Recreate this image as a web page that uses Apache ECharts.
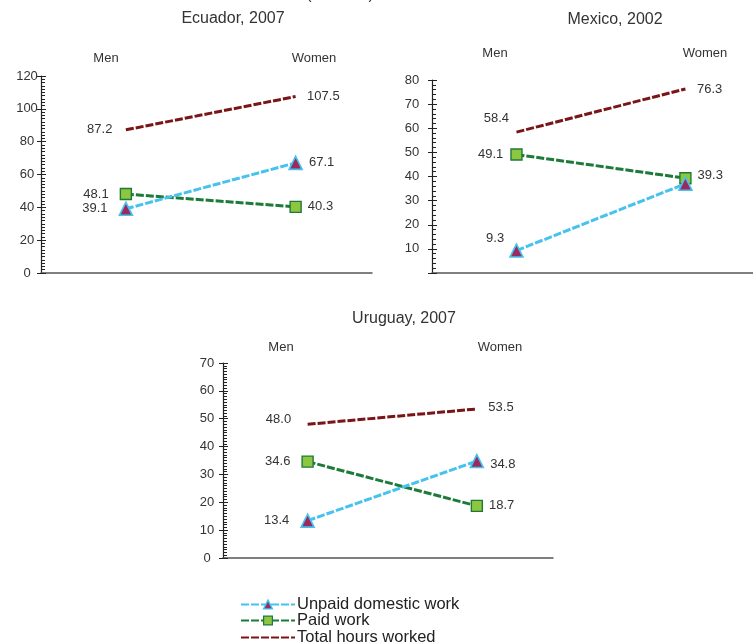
<!DOCTYPE html>
<html>
<head>
<meta charset="utf-8">
<script src="https://cdn.jsdelivr.net/npm/echarts@6/dist/echarts.min.js"></script>
<style>
html,body{margin:0;padding:0;background:#fff;}
#c{width:753px;height:644px;}
</style>
</head>
<body>
<div id="c"></div>
<script>
// ---- data ----
const sexes = ['Men', 'Women'];
const seriesNames = ['Unpaid domestic work', 'Paid work', 'Total hours worked'];
const countries = ['Ecuador, 2007', 'Mexico, 2002', 'Uruguay, 2007'];
const ecuadorUnpaid = [39.1, 67.1];
const ecuadorPaid = [48.1, 40.3];
const ecuadorTotal = [87.2, 107.5];
const mexicoUnpaid = [9.3, 37.0];
const mexicoPaid = [49.1, 39.3];
const mexicoTotal = [58.4, 76.3];
const uruguayUnpaid = [13.4, 34.8];
const uruguayPaid = [34.6, 18.7];
const uruguayTotal = [48.0, 53.5];
const ecuadorTicks = {max: 120, interval: 20};
const mexicoTicks = {max: 80, interval: 10};
const uruguayTicks = {max: 70, interval: 10};
const topNote = '(in hours)';

// ---- styling ----
const FONT = 'Liberation Sans, Arial, sans-serif';
const TXT = '#333';
const C_UNPAID = '#45c3ee';
const C_TRI = '#9b2a5f';
const C_PAID = '#1d7a3a';
const C_SQ = '#8dc63f';
const C_TOTAL = '#7a1517';

const charts = [
  {name: countries[0], data: [ecuadorUnpaid, ecuadorPaid, ecuadorTotal], ticks: ecuadorTicks, minorSplit: 10,
   grid: {left: 41, top: 76, width: 331, height: 197}, xmax: 1.45, hide0: false, labelMargin: 14,
   titlePos: [233, 19], menPos: [106, 58], womenPos: [314, 58],
   offsets: {'2-0': [3, 0]}},
  {name: countries[1], data: [mexicoUnpaid, mexicoPaid, mexicoTotal], ticks: mexicoTicks, minorSplit: 5,
   grid: {left: 432, top: 80, width: 330, height: 193}, xmax: 1.4, hide0: true, labelMargin: 20,
   titlePos: [615, 20], menPos: [495, 53], womenPos: [705, 53],
   offsets: {'0-0': [6, -12], '2-0': [9, -14], '1-0': [4, 0], '1-1': [0, -3], '0-1': null}},
  {name: countries[2], data: [uruguayUnpaid, uruguayPaid, uruguayTotal], ticks: uruguayTicks, minorSplit: 10,
   grid: {left: 223, top: 363, width: 330, height: 195}, xmax: 1.45, hide0: false, labelMargin: 16,
   titlePos: [404, 319], menPos: [281, 347], womenPos: [500, 347],
   offsets: {'2-0': [0, -5], '2-1': [0, -2], '0-1': [0, 3]}}
];

const grids = [], xAxes = [], yAxes = [], series = [], graphics = [];

charts.forEach((ch, ci) => {
  grids.push(ch.grid);
  xAxes.push({
    type: 'value', gridIndex: ci, min: -0.5, max: ch.xmax,
    axisLine: {show: true, onZero: false, lineStyle: {color: '#555', width: 1.5}},
    axisTick: {show: false}, axisLabel: {show: false}, splitLine: {show: false}
  });
  const yBase = {
    type: 'value', gridIndex: ci, min: 0, max: ch.ticks.max, interval: ch.ticks.interval,
    position: 'left', splitLine: {show: false}
  };
  yAxes.push(Object.assign({}, yBase, {
    axisLine: {show: true, onZero: false, lineStyle: {color: '#222', width: 1.2}},
    axisTick: {show: true, inside: true, length: 5, lineStyle: {color: '#222'}},
    minorTick: {show: true, splitNumber: ch.minorSplit, length: 4, lineStyle: {color: '#222'}},
    axisLabel: {color: TXT, fontFamily: FONT, fontSize: 13, margin: ch.labelMargin, align: 'center',
      formatter: v => (ch.hide0 && v === 0) ? '' : String(v)}
  }));
  yAxes.push(Object.assign({}, yBase, {
    axisLine: {show: false, onZero: false},
    axisTick: {show: true, inside: false, length: 4, lineStyle: {color: '#222'}},
    axisLabel: {show: false}
  }));
  const yIdx = ci * 2;
  ch.data.forEach((vals, si) => {
    const isTotal = si === 2;
    const items = vals.map((v, xi) => {
      const key = si + '-' + xi;
      let label;
      if (ch.offsets[key] === null) {
        label = {show: false};
      } else {
        label = {
          show: true,
          position: xi === 0 ? 'left' : 'right',
          distance: isTotal ? (xi === 0 ? 16 : 11) : (xi === 0 ? 11 : 6),
          offset: ch.offsets[key] || [0, 0],
          formatter: () => v.toFixed(1),
          color: TXT, fontFamily: FONT, fontSize: 13
        };
      }
      return {value: [xi, v], label};
    });
    const s = {
      name: seriesNames[si], type: 'line', xAxisIndex: ci, yAxisIndex: yIdx,
      data: items, animation: false, z: 3 - si + 2,
      lineStyle: {width: 3, type: [8, 2]},
      emphasis: {disabled: true}
    };
    if (si === 0) {
      s.symbol = 'triangle'; s.symbolSize = 13;
      s.itemStyle = {color: C_TRI, borderColor: C_UNPAID, borderWidth: 1.6};
      s.lineStyle.color = C_UNPAID;
    } else if (si === 1) {
      s.symbol = 'rect'; s.symbolSize = 11;
      s.itemStyle = {color: C_SQ, borderColor: C_PAID, borderWidth: 1.4};
      s.lineStyle.color = C_PAID;
    } else {
      s.showSymbol = true;
      s.symbol = 'circle'; s.symbolSize = 1;
      s.itemStyle = {color: 'rgba(0,0,0,0)', borderWidth: 0};
      s.lineStyle.color = C_TOTAL;
    }
    series.push(s);
  });
  graphics.push({type: 'text', x: ch.titlePos[0], y: ch.titlePos[1],
    style: {text: ch.name, fill: TXT, font: '16px ' + FONT, textAlign: 'center', textVerticalAlign: 'middle', verticalAlign: 'middle'}});
  graphics.push({type: 'text', x: ch.menPos[0], y: ch.menPos[1],
    style: {text: sexes[0], fill: TXT, font: '13px ' + FONT, textAlign: 'center', textVerticalAlign: 'middle', verticalAlign: 'middle'}});
  graphics.push({type: 'text', x: ch.womenPos[0], y: ch.womenPos[1],
    style: {text: sexes[1], fill: TXT, font: '13px ' + FONT, textAlign: 'center', textVerticalAlign: 'middle', verticalAlign: 'middle'}});
});

graphics.push({type: 'text', x: 340, y: -13,
  style: {text: topNote, fill: TXT, font: '16px ' + FONT, textAlign: 'center'}});

const legendStyles = [
  {itemStyle: {color: C_TRI, borderColor: C_UNPAID, borderWidth: 1.4}},
  {itemStyle: {color: C_SQ, borderColor: C_PAID, borderWidth: 1.2}},
  {}
];
const legendTops = [596, 612, 629];
const legends = seriesNames.map((n, i) => ({
  data: [Object.assign({name: n}, legendStyles[i])],
  left: 240, top: legendTops[i], itemWidth: 54, itemHeight: 11, padding: 0, itemGap: 0,
  textStyle: {color: '#222', fontFamily: FONT, fontSize: 16.5, padding: [0, 0, 0, -3]},
  selectedMode: false
}));

const chart = echarts.init(document.getElementById('c'), null, {renderer: 'canvas'});
chart.setOption({
  animation: false,
  backgroundColor: '#fff',
  grid: grids,
  xAxis: xAxes,
  yAxis: yAxes,
  series: series,
  graphic: graphics,
  legend: legends
});
</script>
</body>
</html>
